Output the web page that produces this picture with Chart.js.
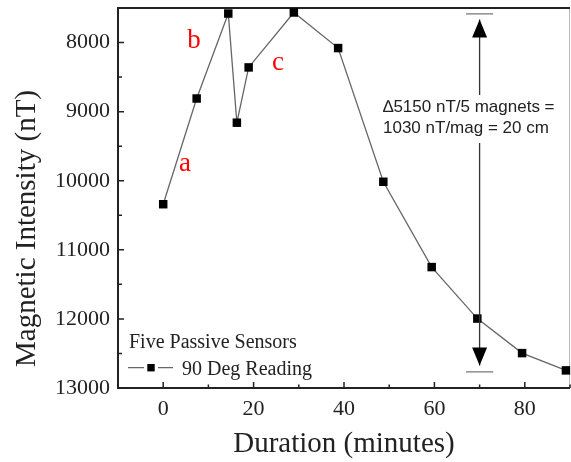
<!DOCTYPE html>
<html>
<head>
<meta charset="utf-8">
<script src="https://cdn.jsdelivr.net/npm/chart.js@4.4.1/dist/chart.umd.min.js"></script>
<style>
html,body{margin:0;padding:0;background:#fff;}
#wrap{width:571px;height:462px;}
</style>
</head>
<body>
<div id="wrap"><canvas id="c" width="571" height="462"></canvas></div>
<script>
// ---- data ----
const durations = [0, 7.4, 14.4, 16.3, 18.9, 28.9, 38.7, 48.7, 59.4, 69.5, 79.4, 89.1];
const intensities = [10340, 8810, 7580, 9160, 8360, 7565, 8080, 10015, 11250, 11995, 12495, 12745];
const xTickValues = [0, 20, 40, 60, 80];
const xMinorTicks = [-10, 10, 30, 50, 70, 90];
const yTickValues = [8000, 9000, 10000, 11000, 12000, 13000];
const yMinorTicks = [7500, 8500, 9500, 10500, 11500, 12500];
const seriesName = '90 Deg Reading';
const legendTitle = 'Five Passive Sensors';
const xTitle = 'Duration (minutes)';
const yTitle = 'Magnetic Intensity (nT)';
const pointLabels = ['a', 'b', 'c'];
const pointLabelX = [4.8, 6.8, 25.4];
const pointLabelY = [9862, 8078, 8401];
const arrowX = 70;
const arrowTopValue = 7586;
const arrowBottomValue = 12767;
const arrowBarHalfWidth = 3;
const noteLines = ['\u22065150 nT/5 magnets =', '1030 nT/mag = 20 cm'];

const serif = '"Liberation Serif", "Times New Roman", serif';
const sans = '"Liberation Sans", Arial, sans-serif';

const decor = {
  id: 'decor',
  beforeDatasetsDraw(chart) {
    const {ctx, chartArea: a, scales: {x, y}} = chart;
    ctx.save();
    // frame
    ctx.strokeStyle = '#bbb'; ctx.lineWidth = 1;
    ctx.beginPath(); ctx.moveTo(a.right - 0.5, a.top); ctx.lineTo(a.right - 0.5, a.bottom); ctx.stroke();
    ctx.strokeStyle = '#222'; ctx.lineWidth = 2;
    ctx.beginPath();
    ctx.moveTo(a.right, a.top); ctx.lineTo(a.left, a.top); ctx.lineTo(a.left, a.bottom); ctx.lineTo(a.right, a.bottom);
    ctx.stroke();
    // ticks (inward)
    ctx.lineWidth = 1.5;
    ctx.beginPath();
    yTickValues.forEach(v => { const p = y.getPixelForValue(v); ctx.moveTo(a.left, p); ctx.lineTo(a.left + 6, p); });
    yMinorTicks.forEach(v => { const p = y.getPixelForValue(v); ctx.moveTo(a.left, p); ctx.lineTo(a.left + 4, p); });
    xTickValues.forEach(v => { const p = x.getPixelForValue(v); ctx.moveTo(p, a.bottom); ctx.lineTo(p, a.bottom - 6); });
    xMinorTicks.forEach(v => { const p = x.getPixelForValue(v); ctx.moveTo(p, a.bottom); ctx.lineTo(p, a.bottom - 3.5); });
    ctx.stroke();
    ctx.restore();
  },
  afterDatasetsDraw(chart) {
    const {ctx, chartArea: a, scales: {x, y}} = chart;
    ctx.save();
    // y title
    ctx.fillStyle = '#222';
    ctx.font = '29px ' + serif;
    ctx.translate(35, 228.5);
    ctx.rotate(-Math.PI / 2);
    ctx.textAlign = 'center'; ctx.textBaseline = 'alphabetic';
    ctx.fillText(yTitle, 0, 0);
    ctx.restore();

    ctx.save();
    // arrow
    const ax = x.getPixelForValue(arrowX);
    const yt = y.getPixelForValue(arrowTopValue);
    const yb = y.getPixelForValue(arrowBottomValue);
    const xl = x.getPixelForValue(arrowX - arrowBarHalfWidth);
    const xr = x.getPixelForValue(arrowX + arrowBarHalfWidth);
    ctx.strokeStyle = '#777'; ctx.lineWidth = 1.3;
    ctx.beginPath(); ctx.moveTo(xl, yt); ctx.lineTo(xr, yt); ctx.moveTo(xl, yb); ctx.lineTo(xr, yb); ctx.stroke();
    const tipT = yt + 5.5, tipB = yb - 6.5, headL = 18, headW = 7.5;
    ctx.strokeStyle = '#333'; ctx.lineWidth = 1.3;
    ctx.beginPath(); ctx.moveTo(ax, tipT); ctx.lineTo(ax, tipB); ctx.stroke();
    ctx.fillStyle = '#000';
    ctx.beginPath(); ctx.moveTo(ax, tipT); ctx.lineTo(ax - headW, tipT + headL); ctx.lineTo(ax + headW, tipT + headL); ctx.closePath(); ctx.fill();
    ctx.beginPath(); ctx.moveTo(ax, tipB); ctx.lineTo(ax - headW, tipB - headL); ctx.lineTo(ax + headW, tipB - headL); ctx.closePath(); ctx.fill();
    // note text with white box
    ctx.font = '17px ' + sans;
    const tx = 383, by1 = 111.5, lh = 21.5;
    const w = Math.max(...noteLines.map(t => ctx.measureText(t).width));
    ctx.fillStyle = '#fff';
    ctx.fillRect(tx - 2, 95, w + 4, 48);
    ctx.fillStyle = '#222';
    ctx.textAlign = 'left'; ctx.textBaseline = 'alphabetic';
    noteLines.forEach((t, i) => ctx.fillText(t, tx, by1 + i * lh));
    // red point labels
    ctx.fillStyle = '#ff0000';
    ctx.font = '27px ' + serif;
    ctx.textAlign = 'center';
    pointLabels.forEach((t, i) => ctx.fillText(t, x.getPixelForValue(pointLabelX[i]), y.getPixelForValue(pointLabelY[i])));
    // legend
    const ds = chart.data.datasets[0];
    ctx.fillStyle = '#222';
    ctx.font = '20px ' + serif;
    ctx.textAlign = 'left';
    ctx.fillText(legendTitle, 129, 347.7);
    ctx.strokeStyle = ds.borderColor; ctx.lineWidth = 1.3;
    ctx.beginPath(); ctx.moveTo(128, 367.7); ctx.lineTo(144, 367.7); ctx.moveTo(158, 367.7); ctx.lineTo(173, 367.7); ctx.stroke();
    ctx.fillStyle = ds.pointBackgroundColor;
    ctx.fillRect(151 - 3.7, 367.7 - 3.7, 7.4, 7.4);
    ctx.fillStyle = '#222';
    ctx.fillText(seriesName, 182, 375);
    ctx.restore();
  }
};

new Chart(document.getElementById('c'), {
  type: 'line',
  data: {
    datasets: [{
      label: seriesName,
      data: durations.map((d, i) => ({x: d, y: intensities[i]})),
      borderColor: '#666',
      borderWidth: 1.3,
      pointStyle: 'rect',
      pointRadius: 6,
      pointHoverRadius: 6,
      pointBackgroundColor: '#000',
      pointBorderColor: '#000',
      pointBorderWidth: 0,
      tension: 0,
      clip: false
    }]
  },
  options: {
    responsive: false,
    devicePixelRatio: 1,
    animation: false,
    events: [],
    layout: {autoPadding: false, padding: {top: 8, right: 1, left: 0, bottom: 0}},
    plugins: {legend: {display: false}, tooltip: {enabled: false}},
    scales: {
      x: {
        type: 'linear',
        min: -10, max: 90,
        afterBuildTicks: s => { s.ticks = xTickValues.map(v => ({value: v})); },
        afterFit: s => { s.height = 74; s.paddingLeft = 0; s.paddingRight = 0; },
        grid: {display: false, drawTicks: false},
        border: {display: false},
        ticks: {color: '#222', font: {family: serif, size: 22}, padding: 8, maxRotation: 0, autoSkip: false, callback: v => String(v)},
        title: {display: true, text: xTitle, color: '#222', font: {family: serif, size: 29}, padding: {top: 0, bottom: 0}}
      },
      y: {
        type: 'linear',
        reverse: true,
        min: 7500, max: 13000,
        afterBuildTicks: s => { s.ticks = yTickValues.map(v => ({value: v})); },
        afterFit: s => { s.width = 118; s.paddingTop = 0; s.paddingBottom = 0; },
        grid: {display: false, drawTicks: false},
        border: {display: false},
        ticks: {color: '#222', font: {family: serif, size: 22}, padding: 8, autoSkip: false, callback: v => String(v)}
      }
    }
  },
  plugins: [decor]
});
</script>
</body>
</html>
